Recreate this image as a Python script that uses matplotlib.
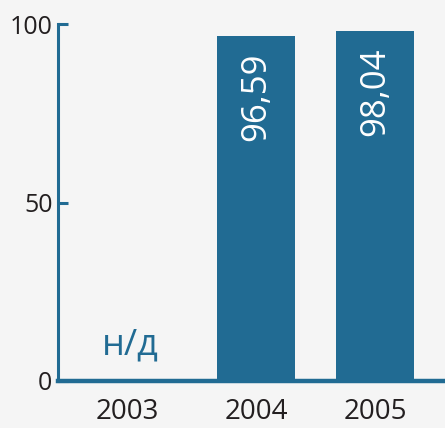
import matplotlib.pyplot as plt

# Данные по годам
years = ["2003", "2004", "2005"]
values = [None, 96.59, 98.04]
labels = ["н/д", "96,59", "98,04"]

barColor = "#216b93"
bgColor = "#f5f5f5"
txtColor = "#231f20"

plt.rcParams['font.family'] = ['Open Sans', 'DejaVu Sans']

fig = plt.figure(figsize=(4.45, 4.28), dpi=100)
fig.patch.set_facecolor(bgColor)
ax = fig.add_axes([58 / 445, 47 / 428, 1 - 58 / 445, (381 - 24) / 428])
ax.set_facecolor(bgColor)

pos = [0, 1, 2]
# метка 2003 немного левее
tickPos = [-0.08, 1, 2]
for p, v, lab in zip(pos, values, labels):
    if v is None:
        # Нет данных
        ax.text(p - 0.06, 10, lab, color=barColor, fontsize=26, ha='center', va='center')
        continue
    ax.bar(p, v, width=0.655, color=barColor, zorder=2)
    ax.text(p, v - 4.7, lab, color="white", fontsize=25, rotation=90,
            ha='center', va='top', zorder=3)

ax.set_xlim(-0.664, 2.588)
ax.set_ylim(0, 100)
ax.set_yticks([0, 50, 100])
ax.set_xticks(tickPos)
ax.set_xticklabels(years)

for s in ['top', 'right']:
    ax.spines[s].set_visible(False)
ax.spines['left'].set_color(barColor)
ax.spines['left'].set_linewidth(2.2)
ax.spines['bottom'].set_color(barColor)
ax.spines['bottom'].set_linewidth(3.2)
ax.spines['bottom'].set_zorder(4)

ax.tick_params(axis='y', direction='in', length=7.5, width=2.2, color=barColor,
               labelsize=18, labelcolor=txtColor, pad=4)
ax.tick_params(axis='x', length=0, labelsize=20, labelcolor=txtColor, pad=12)

fig.savefig("out.png", dpi=100, facecolor=bgColor)
